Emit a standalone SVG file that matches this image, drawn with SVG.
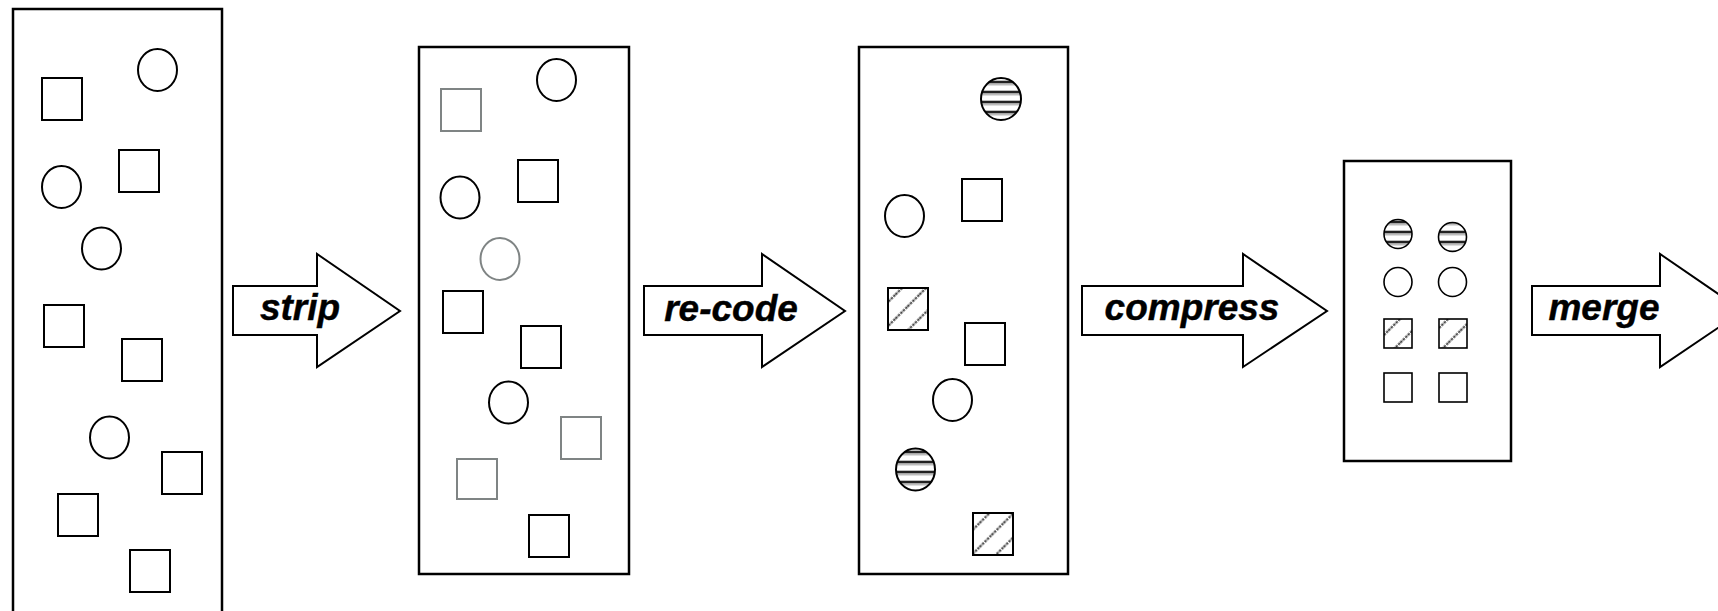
<svg xmlns="http://www.w3.org/2000/svg" width="1718" height="611" viewBox="0 0 1718 611">
  <style>
    .box { fill: #fff; stroke: #000; stroke-width: 2.5; }
    .item { fill: #fff; stroke: #000; stroke-width: 2; }
    .gone { fill: #fff; stroke: #7f8484; stroke-width: 2; }
    .small { stroke-width: 1.6; }
    .hatch { fill: url(#diag); }
    .stripe { fill: url(#horiz); }
    .step { fill: #fff; stroke: #000; stroke-width: 2; stroke-linejoin: miter; }
    .label { font-family: "Liberation Sans", Arial, sans-serif; font-weight: bold; font-style: italic; font-size: 37px; text-anchor: middle; fill: #000; stroke: #000; stroke-width: 0.4; }
  </style>
  <defs>
    <!-- diagonal hatching for re-coded squares -->
    <pattern id="diag" patternUnits="userSpaceOnUse" width="17" height="17" patternTransform="rotate(-45)">
      <rect width="17" height="17" fill="#fff"/>
      <line x1="0" y1="8.5" x2="17" y2="8.5" stroke="#3a3a3a" stroke-width="2.2" stroke-dasharray="2.5 1"/>
    </pattern>
    <!-- horizontal striping for re-coded circles -->
    <pattern id="horiz" patternUnits="userSpaceOnUse" width="10" height="10">
      <rect width="10" height="10" fill="#fff"/>
      <rect y="-0.5" width="10" height="1.5" fill="#bdbdbd"/>
      <rect y="1" width="10" height="2.5" fill="#222"/>
      <rect y="3.5" width="10" height="2" fill="#bdbdbd"/>
    </pattern>
  </defs>

  <!-- stage 1: raw input -->
  <g id="stage-input">
    <rect class="box" x="13" y="9" width="209" height="620"/>
    <rect class="item" x="42" y="78" width="40" height="42"/>
    <rect class="item" x="119" y="150" width="40" height="42"/>
    <rect class="item" x="44" y="305" width="40" height="42"/>
    <rect class="item" x="122" y="339" width="40" height="42"/>
    <rect class="item" x="162" y="452" width="40" height="42"/>
    <rect class="item" x="58" y="494" width="40" height="42"/>
    <rect class="item" x="130" y="550" width="40" height="42"/>
    <ellipse class="item" cx="157.5" cy="70" rx="19.5" ry="21"/>
    <ellipse class="item" cx="61.5" cy="187" rx="19.5" ry="21"/>
    <ellipse class="item" cx="101.5" cy="248.5" rx="19.5" ry="21"/>
    <ellipse class="item" cx="109.5" cy="437.5" rx="19.5" ry="21"/>
  </g>

  <!-- stage 2: stripped items shown in grey -->
  <g id="stage-stripped">
    <rect class="box" x="419" y="47" width="210" height="527"/>
    <rect class="gone" x="441" y="89" width="40" height="42"/>
    <rect class="item" x="518" y="160" width="40" height="42"/>
    <rect class="item" x="443" y="291" width="40" height="42"/>
    <rect class="item" x="521" y="326" width="40" height="42"/>
    <rect class="gone" x="561" y="417" width="40" height="42"/>
    <rect class="gone" x="457" y="459" width="40" height="40"/>
    <rect class="item" x="529" y="515" width="40" height="42"/>
    <ellipse class="item" cx="556.5" cy="80" rx="19.5" ry="21"/>
    <ellipse class="item" cx="460" cy="197.5" rx="19.5" ry="21"/>
    <ellipse class="gone" cx="500" cy="259" rx="19.5" ry="21"/>
    <ellipse class="item" cx="508.5" cy="402.5" rx="19.5" ry="21"/>
  </g>

  <!-- stage 3: re-coded items -->
  <g id="stage-recoded">
    <rect class="box" x="859" y="47" width="209" height="527"/>
    <rect class="item" x="962" y="179" width="40" height="42"/>
    <rect class="item hatch" x="888" y="288" width="40" height="42"/>
    <rect class="item" x="965" y="323" width="40" height="42"/>
    <rect class="item hatch" x="973" y="513" width="40" height="42"/>
    <ellipse class="item stripe" cx="1001" cy="99" rx="20" ry="21"/>
    <ellipse class="item" cx="904.5" cy="216" rx="19.5" ry="21"/>
    <ellipse class="item" cx="952.5" cy="400" rx="19.5" ry="21"/>
    <ellipse class="item stripe" cx="915.5" cy="469.5" rx="19.5" ry="21"/>
  </g>

  <!-- stage 4: compressed grid -->
  <g id="stage-compressed">
    <rect class="box" x="1344" y="161" width="167" height="300"/>
    <ellipse class="item small stripe" cx="1398" cy="234" rx="14" ry="14.5"/>
    <ellipse class="item small stripe" cx="1452.5" cy="237" rx="14" ry="14.5"/>
    <ellipse class="item small" cx="1398" cy="282" rx="14" ry="14.5"/>
    <ellipse class="item small" cx="1452.5" cy="282" rx="14" ry="14.5"/>
    <rect class="item small hatch" x="1384" y="319" width="28" height="29"/>
    <rect class="item small hatch" x="1439" y="319" width="28" height="29"/>
    <rect class="item small" x="1384" y="373" width="28" height="29"/>
    <rect class="item small" x="1439" y="373" width="28" height="29"/>
  </g>

  <!-- processing steps between stages -->
  <g id="connectors">
    <g id="step-strip">
      <polygon class="step" points="233,286 317,286 317,254 400,311 317,367 317,335 233,335"/>
      <text class="label" x="300" y="320">strip</text>
    </g>
    <g id="step-recode">
      <polygon class="step" points="644,286 762,286 762,254 845,311 762,367 762,335 644,335"/>
      <text class="label" x="731" y="321">re-code</text>
    </g>
    <g id="step-compress">
      <polygon class="step" points="1082,286 1243,286 1243,254 1327,311 1243,367 1243,335 1082,335"/>
      <text class="label" x="1192" y="320">compress</text>
    </g>
    <g id="step-merge">
      <polygon class="step" points="1532,286 1660,286 1660,254 1743,311 1660,367 1660,335 1532,335"/>
      <text class="label" x="1604" y="320">merge</text>
    </g>
  </g>
</svg>
